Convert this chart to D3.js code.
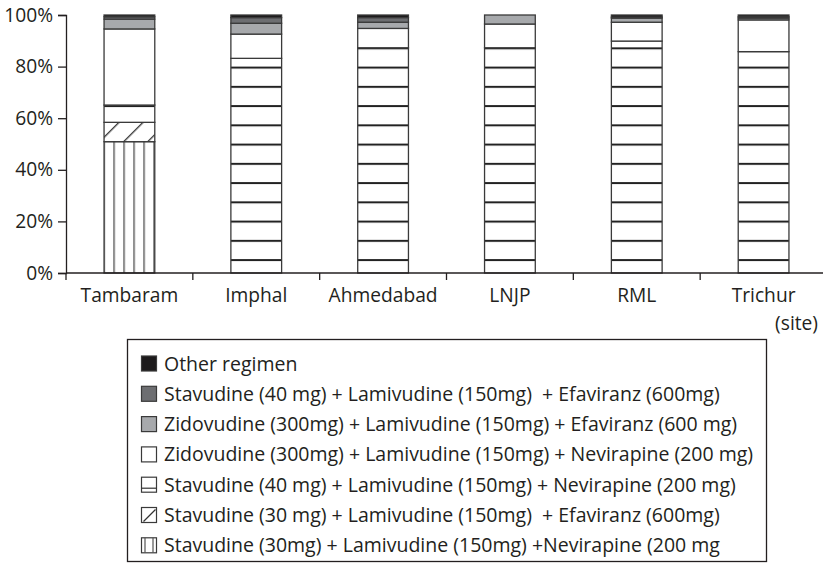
<!DOCTYPE html>
<html><head><meta charset="utf-8">
<script src="https://cdn.jsdelivr.net/npm/d3@7"></script>
<style>
html,body{margin:0;padding:0;background:#fff;}
text{font-family:"Open Sans",sans-serif;fill:#231f20;}
</style></head>
<body><svg id="c" width="823" height="567"></svg>
<script>
const sites = ["Tambaram","Imphal","Ahmedabad","LNJP","RML","Trichur"];
const s30nev = [50.9,0,0,0,0,0];
const s30efv = [7.5,0,0,0,0,0];
const s40nev = [6.7,83.2,87.3,87.3,89.9,85.8];
const zdvnev = [29.5,9.4,7.5,9.2,7.3,12.3];
const zdvefv = [3.8,4.2,2.4,3.5,1.6,0.7];
const s40efv = [0.9,2.2,1.8,0,0.4,0.5];
const other  = [0.7,1.0,1.0,0,0.8,0.7];
const yTicks = [0,20,40,60,80,100];
const seriesKeys = ["s30nev","s30efv","s40nev","zdvnev","zdvefv","s40efv","other"];
const seriesLabels = {
  other:"Other regimen",
  s40efv:"Stavudine (40 mg) + Lamivudine (150mg)  + Efaviranz (600mg)",
  zdvefv:"Zidovudine (300mg) + Lamivudine (150mg) + Efaviranz (600 mg)",
  zdvnev:"Zidovudine (300mg) + Lamivudine (150mg) + Nevirapine (200 mg)",
  s40nev:"Stavudine (40 mg) + Lamivudine (150mg) + Nevirapine (200 mg)",
  s30efv:"Stavudine (30 mg) + Lamivudine (150mg)  + Efaviranz (600mg)",
  s30nev:"Stavudine (30mg) + Lamivudine (150mg) +Nevirapine (200 mg"
};
const legendOrder = ["other","s40efv","zdvefv","zdvnev","s40nev","s30efv","s30nev"];

const seriesData = {s30nev,s30efv,s40nev,zdvnev,zdvefv,s40efv,other};
const table = sites.map((s,i)=>{const o={site:s}; seriesKeys.forEach(k=>o[k]=seriesData[k][i]); return o;});

const FS = 19.2, LFS = 19.5;
const svg = d3.select("#c");
const defs = svg.append("defs");
const x = d3.scaleBand().domain(sites).range([66,827]).paddingInner(0.6).paddingOuter(0.3);
const y = d3.scaleLinear().domain([0,100]).range([273,15]);

// patterns
const pv = defs.append("pattern").attr("id","pv").attr("patternUnits","userSpaceOnUse")
  .attr("width",10).attr("height",10).attr("x",x("Tambaram")+9.3);
pv.append("rect").attr("width",10).attr("height",10).attr("fill","#fff");
pv.append("rect").attr("x",0).attr("width",1.4).attr("height",10).attr("fill","#555");
const pd = defs.append("pattern").attr("id","pd").attr("patternUnits","userSpaceOnUse")
  .attr("width",17).attr("height",17).attr("patternTransform","rotate(45)");
pd.append("rect").attr("width",17).attr("height",17).attr("fill","#fff");
pd.append("rect").attr("x",0).attr("width",1.3).attr("height",17).attr("fill","#333");
const ph = defs.append("pattern").attr("id","ph").attr("patternUnits","userSpaceOnUse")
  .attr("width",20).attr("height",19.25).attr("y",y(5)-1);
ph.append("rect").attr("width",20).attr("height",19.25).attr("fill","#fff");
ph.append("rect").attr("y",0).attr("width",20).attr("height",2).attr("fill","#222");

const fills = {s30nev:"url(#pv)",s30efv:"url(#pd)",s40nev:"url(#ph)",zdvnev:"#ffffff",zdvefv:"#a7a9ac",s40efv:"#6d6e71",other:"#1c1a1b"};

const stack = d3.stack().keys(seriesKeys)(table);
const g = svg.append("g");
stack.forEach(layer=>{
  g.selectAll(null).data(layer.filter(d=>d[1]-d[0]>0)).enter().append("rect")
    .attr("x",d=>x(d.data.site)).attr("width",x.bandwidth())
    .attr("y",d=>y(d[1])).attr("height",d=>y(d[0])-y(d[1]))
    .attr("fill",fills[layer.key]).attr("stroke","#3a3a3a").attr("stroke-width",1.3);
});

// y axis
const ya = svg.append("g").attr("transform","translate(66,0)")
  .call(d3.axisLeft(y).tickValues(yTicks).tickFormat(d=>d+"%").tickSize(8).tickPadding(5));
ya.select(".domain").attr("stroke","#231f20").attr("stroke-width",1.3);
ya.selectAll(".tick line").attr("stroke","#231f20").attr("stroke-width",1.3);
ya.selectAll("text").attr("font-size",FS).attr("font-family","Open Sans").attr("fill","#231f20");

// x axis
const xa = svg.append("g").attr("transform","translate(0,273)")
  .call(d3.axisBottom(x).tickSize(0).tickPadding(15));
xa.select(".domain").attr("d","M66,0H823").attr("stroke","#231f20").attr("stroke-width",1.3);
xa.selectAll("text").attr("font-size",FS).attr("font-family","Open Sans").attr("fill","#231f20").attr("dy","0.71em");
const step = x.step();
xa.selectAll(null).data(sites).enter().append("line")
  .attr("x1",d=>x(d)-x.paddingOuter()*step).attr("x2",d=>x(d)-x.paddingOuter()*step)
  .attr("y1",0).attr("y2",7).attr("stroke","#231f20").attr("stroke-width",1.3);
svg.append("text").attr("x",818).attr("y",330).attr("text-anchor","end").attr("font-size",FS).text("(site)");

// legend
const lg = svg.append("g");
lg.append("rect").attr("x",127.5).attr("y",339.5).attr("width",639).attr("height",222)
  .attr("fill","none").attr("stroke","#231f20").attr("stroke-width",1.3);
legendOrder.forEach((k,i)=>{
  const cy = 363.5 + i*30.3;
  const sx = 141.5, sy = cy-7.5, s = 15;
  const it = lg.append("g");
  const f = (k==="s30nev"||k==="s30efv"||k==="s40nev") ? "#fff" : fills[k];
  it.append("rect").attr("x",sx).attr("y",sy).attr("width",s).attr("height",s)
    .attr("fill",f).attr("stroke","#3a3a3a").attr("stroke-width",1.2);
  if(k==="s40nev") it.append("line").attr("x1",sx).attr("x2",sx+s).attr("y1",sy+s-4).attr("y2",sy+s-4).attr("stroke","#333").attr("stroke-width",1.2);
  if(k==="s30efv") it.append("line").attr("x1",sx+2).attr("x2",sx+s-1).attr("y1",sy+s-1).attr("y2",sy+2).attr("stroke","#333").attr("stroke-width",1.2);
  if(k==="s30nev"){ [3.5, s-3.5].forEach(dx=>it.append("line").attr("x1",sx+dx).attr("x2",sx+dx).attr("y1",sy).attr("y2",sy+s).attr("stroke","#555").attr("stroke-width",1.2)); }
  it.append("text").attr("x",164).attr("y",cy).attr("dy","0.36em").attr("font-size",LFS)
    .style("white-space","pre").text(seriesLabels[k]);
});
</script></body></html>
